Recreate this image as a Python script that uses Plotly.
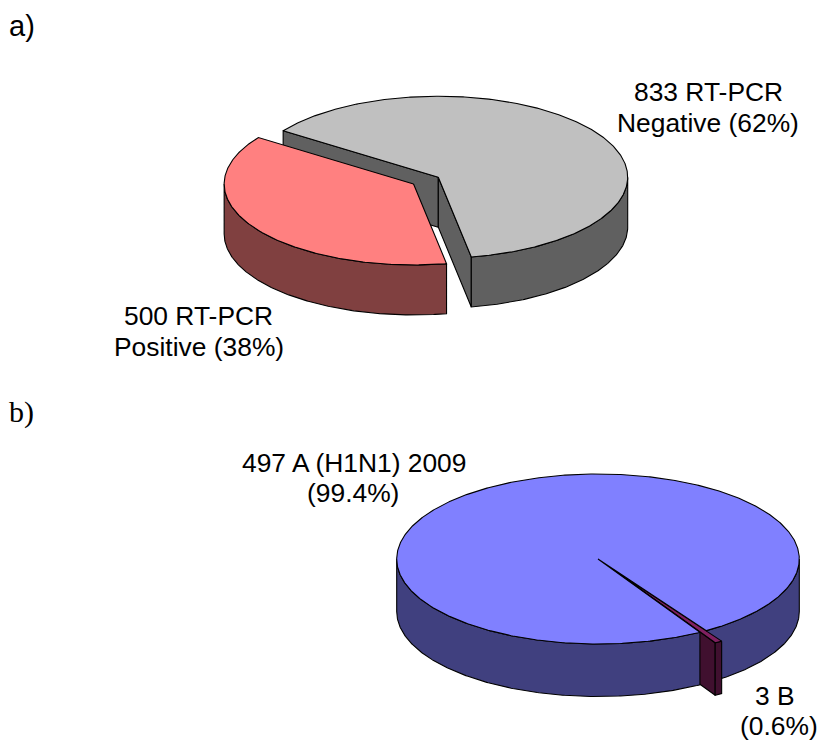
import numpy as np
import plotly.graph_objects as go

# Test counts for each pie
screen_labels = ["RT-PCR Negative", "RT-PCR Positive"]
screen_counts = [833, 500]
subtype_labels = ["A (H1N1) 2009", "B"]
subtype_counts = [497, 3]

# Colours: top face, side face
screen_top = ["#C0C0C0", "#FF8080"]
screen_side = ["#606060", "#804040"]
subtype_top = ["#8080FF", "#802060"]
subtype_side = ["#40407F", "#40102F"]

# Pie placement on a pixel-sized canvas: centre x, centre y, x radius, y radius, depth
PIE_A = dict(cx=438.3, cy=177.2, rx=189.4, ry=81.0, depth=50.0)
PIE_B = dict(cx=598.0, cy=559.0, rx=201.3, ry=85.0, depth=52.5)
START_A = 305.0
START_B = 149.58
EXPLODE_A = [0.0, 0.155]
EXPLODE_B = [0.0, 0.145]
LINE_W = 1.1


def spans(values, start):
    """Clockwise slice spans in degrees, measured from twelve o'clock."""
    total = sum(values)
    edges = start + np.cumsum([0] + [v / total * 360 for v in values])
    return list(zip(edges[:-1], edges[1:]))


def centre(pie, span, explode):
    mid = np.radians((span[0] + span[1]) / 2)
    return (pie["cx"] + explode * pie["rx"] * np.sin(mid),
            pie["cy"] - explode * pie["ry"] * np.cos(mid))


def arc(pie, c, a0, a1, dz=0.0):
    n = max(2, int(abs(a1 - a0) * 2) + 2)
    t = np.radians(np.linspace(a0, a1, n))
    return c[0] + pie["rx"] * np.sin(t), c[1] - pie["ry"] * np.cos(t) + dz


def poly(fig, x, y, colour):
    fig.add_trace(go.Scatter(
        x=np.r_[x, x[0]], y=np.r_[y, y[0]], mode="lines", fill="toself",
        fillcolor=colour, line=dict(color="black", width=LINE_W),
        hoverinfo="skip", showlegend=False))


def top_face(fig, pie, c, span, colour):
    x, y = arc(pie, c, *span)
    poly(fig, np.r_[c[0], x], np.r_[c[1], y], colour)


def rim_parts(span):
    """Front-facing portions of the outer wall (90 to 270 degrees, any turn)."""
    parts = []
    for turn in (-360, 0, 360):
        a0, a1 = max(span[0], 90 + turn), min(span[1], 270 + turn)
        if a1 > a0:
            parts.append((a0, a1))
    return parts


def rim(fig, pie, c, part, colour):
    x0, y0 = arc(pie, c, *part)
    x1, y1 = arc(pie, c, *part, dz=pie["depth"])
    poly(fig, np.r_[x0, x1[::-1]], np.r_[y0, y1[::-1]], colour)


def cut_wall(fig, pie, c, angle, colour):
    xr, yr = arc(pie, c, angle, angle)
    xr, yr = xr[0], yr[0]
    d = pie["depth"]
    poly(fig, np.array([c[0], xr, xr, c[0]]), np.array([c[1], yr, yr + d, c[1] + d]), colour)


fig = go.Figure()

# Pie a: grey slice first, the pulled-out red slice in front of it
grey, red = spans(screen_counts, START_A)
c_grey = centre(PIE_A, grey, EXPLODE_A[0])
c_red = centre(PIE_A, red, EXPLODE_A[1])
cut_wall(fig, PIE_A, c_grey, grey[0], screen_side[0])
cut_wall(fig, PIE_A, c_grey, grey[1], screen_side[0])
for part in rim_parts(grey):
    rim(fig, PIE_A, c_grey, part, screen_side[0])
top_face(fig, PIE_A, c_grey, grey, screen_top[0])
for part in rim_parts(red):
    rim(fig, PIE_A, c_red, part, screen_side[1])
top_face(fig, PIE_A, c_red, red, screen_top[1])

# Pie b: right wall of the big slice, then the thin slice, then the rest on top
blue, thin = spans(subtype_counts, START_B)
c_blue = centre(PIE_B, blue, EXPLODE_B[0])
c_thin = centre(PIE_B, thin, EXPLODE_B[1])
blue_rims = sorted(rim_parts(blue), key=lambda p: -p[0])
rim(fig, PIE_B, c_blue, blue_rims[0], subtype_side[0])
thin_span = (thin[0] - 360, thin[1] - 360)
cut_wall(fig, PIE_B, c_thin, thin_span[1], subtype_side[1])
for part in rim_parts(thin_span):
    rim(fig, PIE_B, c_thin, part, subtype_side[1])
top_face(fig, PIE_B, c_thin, thin_span, subtype_top[1])
rim(fig, PIE_B, c_blue, blue_rims[1], subtype_side[0])
top_face(fig, PIE_B, c_blue, blue, subtype_top[0])

SANS = "Liberation Sans, Arial, sans-serif"
SERIF = "Liberation Serif, Times New Roman, serif"
LABEL_SIZE = 26.4
pct = lambda v, vals, d: f"{v / sum(vals) * 100:.{d}f}%"
texts = [
    ("a)", 22, 26, SANS, 29),
    (f"{screen_counts[0]} RT-PCR", 708.3, 92, SANS, LABEL_SIZE),
    (f"Negative ({pct(screen_counts[0], screen_counts, 0)})", 708, 123, SANS, LABEL_SIZE),
    (f"{screen_counts[1]} RT-PCR", 198.7, 316, SANS, LABEL_SIZE),
    (f"Positive ({pct(screen_counts[1], screen_counts, 0)})", 199, 347, SANS, LABEL_SIZE),
    ("b)", 21.5, 412, SERIF, 30),
    (f"{subtype_counts[0]} {subtype_labels[0]}", 354, 463, SANS, LABEL_SIZE),
    (f"({pct(subtype_counts[0], subtype_counts, 1)})", 353, 493, SANS, LABEL_SIZE),
    (f"{subtype_counts[1]} {subtype_labels[1]}", 774.5, 696, SANS, LABEL_SIZE),
    (f"({pct(subtype_counts[1], subtype_counts, 1)})", 778.5, 726, SANS, LABEL_SIZE),
]
for text, x, y, family, size in texts:
    fig.add_annotation(x=x, y=y, text=text, showarrow=False, xanchor="center", yanchor="middle",
                       font=dict(family=family, size=size, color="black"))

fig.update_xaxes(range=[0, 818], visible=False, fixedrange=True)
fig.update_yaxes(range=[740, 0], visible=False, fixedrange=True)
fig.update_layout(width=818, height=740, margin=dict(l=0, r=0, t=0, b=0, pad=0),
                  paper_bgcolor="white", plot_bgcolor="white", showlegend=False)
fig.write_html("out.html", config={"displayModeBar": False})
